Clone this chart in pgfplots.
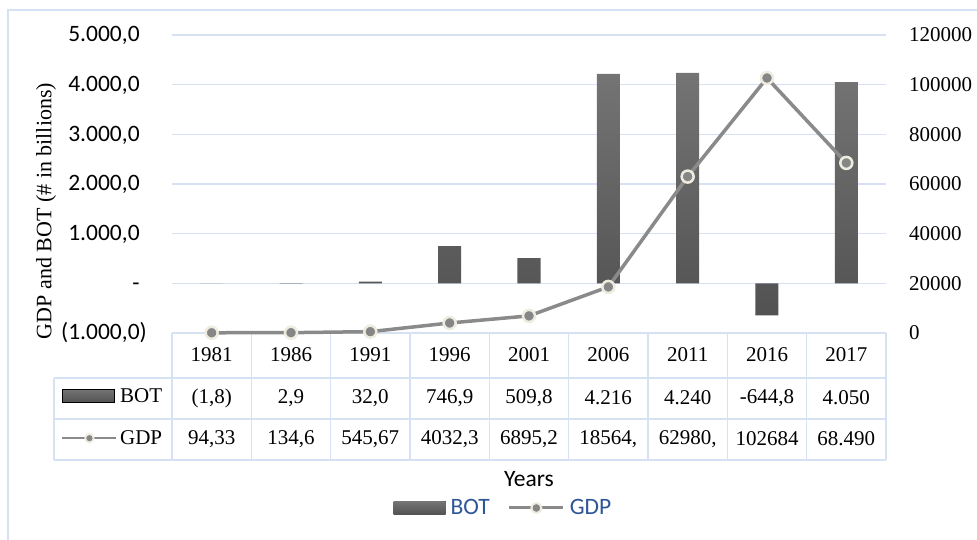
\documentclass[border=0pt]{standalone}
\usepackage{fontspec}
\setmainfont{Liberation Serif}
\newfontfamily\calibri{Carlito}
\usepackage{pgfplots}
\usepackage{pgfplotstable}
\pgfplotsset{compat=1.18}
\definecolor{gridblue}{HTML}{D6E2F3}
\definecolor{legblue}{HTML}{2E5597}
\definecolor{bartop}{HTML}{747474}
\definecolor{barbot}{HTML}{525252}
\definecolor{linegray}{HTML}{8A8A8A}
\definecolor{markgray}{HTML}{868686}
\definecolor{cream}{HTML}{EEEBDF}
\newcommand\calf{\calibri\fontsize{23.5pt}{28pt}\selectfont}
\newcommand\serf{\fontsize{21pt}{25pt}\selectfont}

\pgfplotstableread{
x year bot gdp
0 1981 -1.8 94.33
1 1986 2.9 134.6
2 1991 32.0 545.67
3 1996 746.9 4032.3
4 2001 509.8 6895.2
5 2006 4216 18564
6 2011 4240 62980
7 2016 -644.8 102684
8 2017 4050 68490
}\datatable

\begin{document}
\begin{tikzpicture}
\useasboundingbox (0pt,0pt) rectangle (977pt,-540pt);
\draw[gridblue, line width=1.5pt] (8pt,-540pt) -- (8pt,-10pt) -- (977pt,-10pt);

\begin{axis}[
  at={(172pt,-333pt)}, anchor=south west,
  scale only axis, width=714pt, height=298pt,
  xmin=-0.5, xmax=8.5, ymin=-1000, ymax=5000,
  axis line style={draw=none},
  xtick=\empty,
  ytick={-1000,0,1000,2000,3000,4000,5000},
  yticklabels={{(1.000,0)},{-\phantom{)}\hspace{4pt}},{1.000,0\phantom{)}},{2.000,0\phantom{)}},{3.000,0\phantom{)}},{4.000,0\phantom{)}},{5.000,0\phantom{)}}},
  yticklabel style={font=\calf, anchor=east, inner sep=0pt, xshift=-25pt},
  major tick length=0pt,
  ymajorgrids, grid style={gridblue, line width=1.2pt},
  legend columns=2,
  legend style={at={(0.4643,-0.5872)}, anchor=center, draw=none, fill=none, inner sep=0pt,
    font=\calf\color{legblue},
    /tikz/every odd column/.append style={column sep=3pt},
    /tikz/every even column/.append style={column sep=16pt},
    nodes={inner sep=2pt}},
]
\addplot[ybar, bar width=23pt, draw=none, top color=bartop, bottom color=barbot,
  legend image code/.code={\fill[top color=bartop, bottom color=barbot] (0pt,-6.5pt) rectangle (52pt,6.5pt);}]
  table[x=x,y=bot]{\datatable};
\addlegendentry{BOT}
\addlegendimage{legend image code/.code={\draw[linegray, line width=3pt] (0pt,0pt) -- (54pt,0pt); \draw[fill=markgray, draw=cream, line width=2pt] (27pt,0pt) circle (5pt);}}
\addlegendentry{GDP}
\end{axis}

% data table grid
\begin{scope}[gridblue, line width=1.6pt]
\draw (172pt,-333pt) -- (886pt,-333pt);
\draw (54pt,-378pt) -- (886pt,-378pt);
\draw (54pt,-419pt) -- (886pt,-419pt);
\draw (54pt,-460pt) -- (886pt,-460pt);
\draw (54pt,-378pt) -- (54pt,-460pt);
\foreach \k in {0,...,9} {\draw ({172pt+79.333pt*\k},-333pt) -- ({172pt+79.333pt*\k},-460pt);}
\end{scope}
\foreach \t [count=\i from 0] in {1981,1986,1991,1996,2001,2006,2011,2016,2017}
  {\node[font=\serf] at ({211.67pt+79.333pt*\i},-355pt) {\t};}
\foreach \t [count=\i from 0] in {{(1,8)},{2,9},{32,0},{746,9},{509,8},{4.216},{4.240},{-644,8},{4.050}}
  {\node[font=\serf] at ({211.67pt+79.333pt*\i},-398pt) {\t};}
\foreach \t [count=\i from 0] in {{94,33},{134,6},{545,67},{4032,3},{6895,2},{18564,},{62980,},{102684},{68.490}}
  {\node[font=\serf] at ({211.67pt+79.333pt*\i},-439pt) {\t};}

\node[rotate=90, font=\fontsize{22pt}{26pt}\selectfont] at (46pt,-211pt) {GDP and BOT (\# in billions)};
\node[font=\calf] at (529pt,-479pt) {Years};

\begin{axis}[
  at={(172pt,-333pt)}, anchor=south west,
  scale only axis, width=714pt, height=298pt,
  xmin=-0.5, xmax=8.5, ymin=0, ymax=120000,
  axis line style={draw=none},
  xtick=\empty,
  scaled y ticks=false,
  ytick={0,20000,40000,60000,80000,100000,120000},
  yticklabels={0,20000,40000,60000,80000,100000,120000},
  yticklabel pos=right,
  yticklabel style={font=\serf, anchor=west, inner sep=0pt, xshift=23pt},
  major tick length=0pt, clip=false,
  legend cell align=left,
  legend style={at={(-0.1555,-0.2819)}, anchor=west, draw=none, fill=none, inner sep=0pt,
    font=\serf, row sep=22pt, nodes={inner sep=2.5pt}},
]
\addlegendimage{legend image code/.code={\fill[top color=bartop, bottom color=barbot] (0pt,-6.5pt) rectangle (52pt,6.5pt);}}
\addlegendentry{BOT}
\addplot[linegray, line width=3.5pt, mark=*, mark size=6pt,
  mark options={fill=markgray, draw=cream, line width=2.5pt},
  legend image code/.code={\draw[linegray, line width=2.5pt] (0pt,0pt) -- (54pt,0pt); \draw[fill=markgray, draw=cream, line width=1.8pt] (27pt,0pt) circle (4.2pt);}]
  table[x=x,y=gdp]{\datatable};
\addlegendentry{GDP}
\end{axis}
\end{tikzpicture}
\end{document}
